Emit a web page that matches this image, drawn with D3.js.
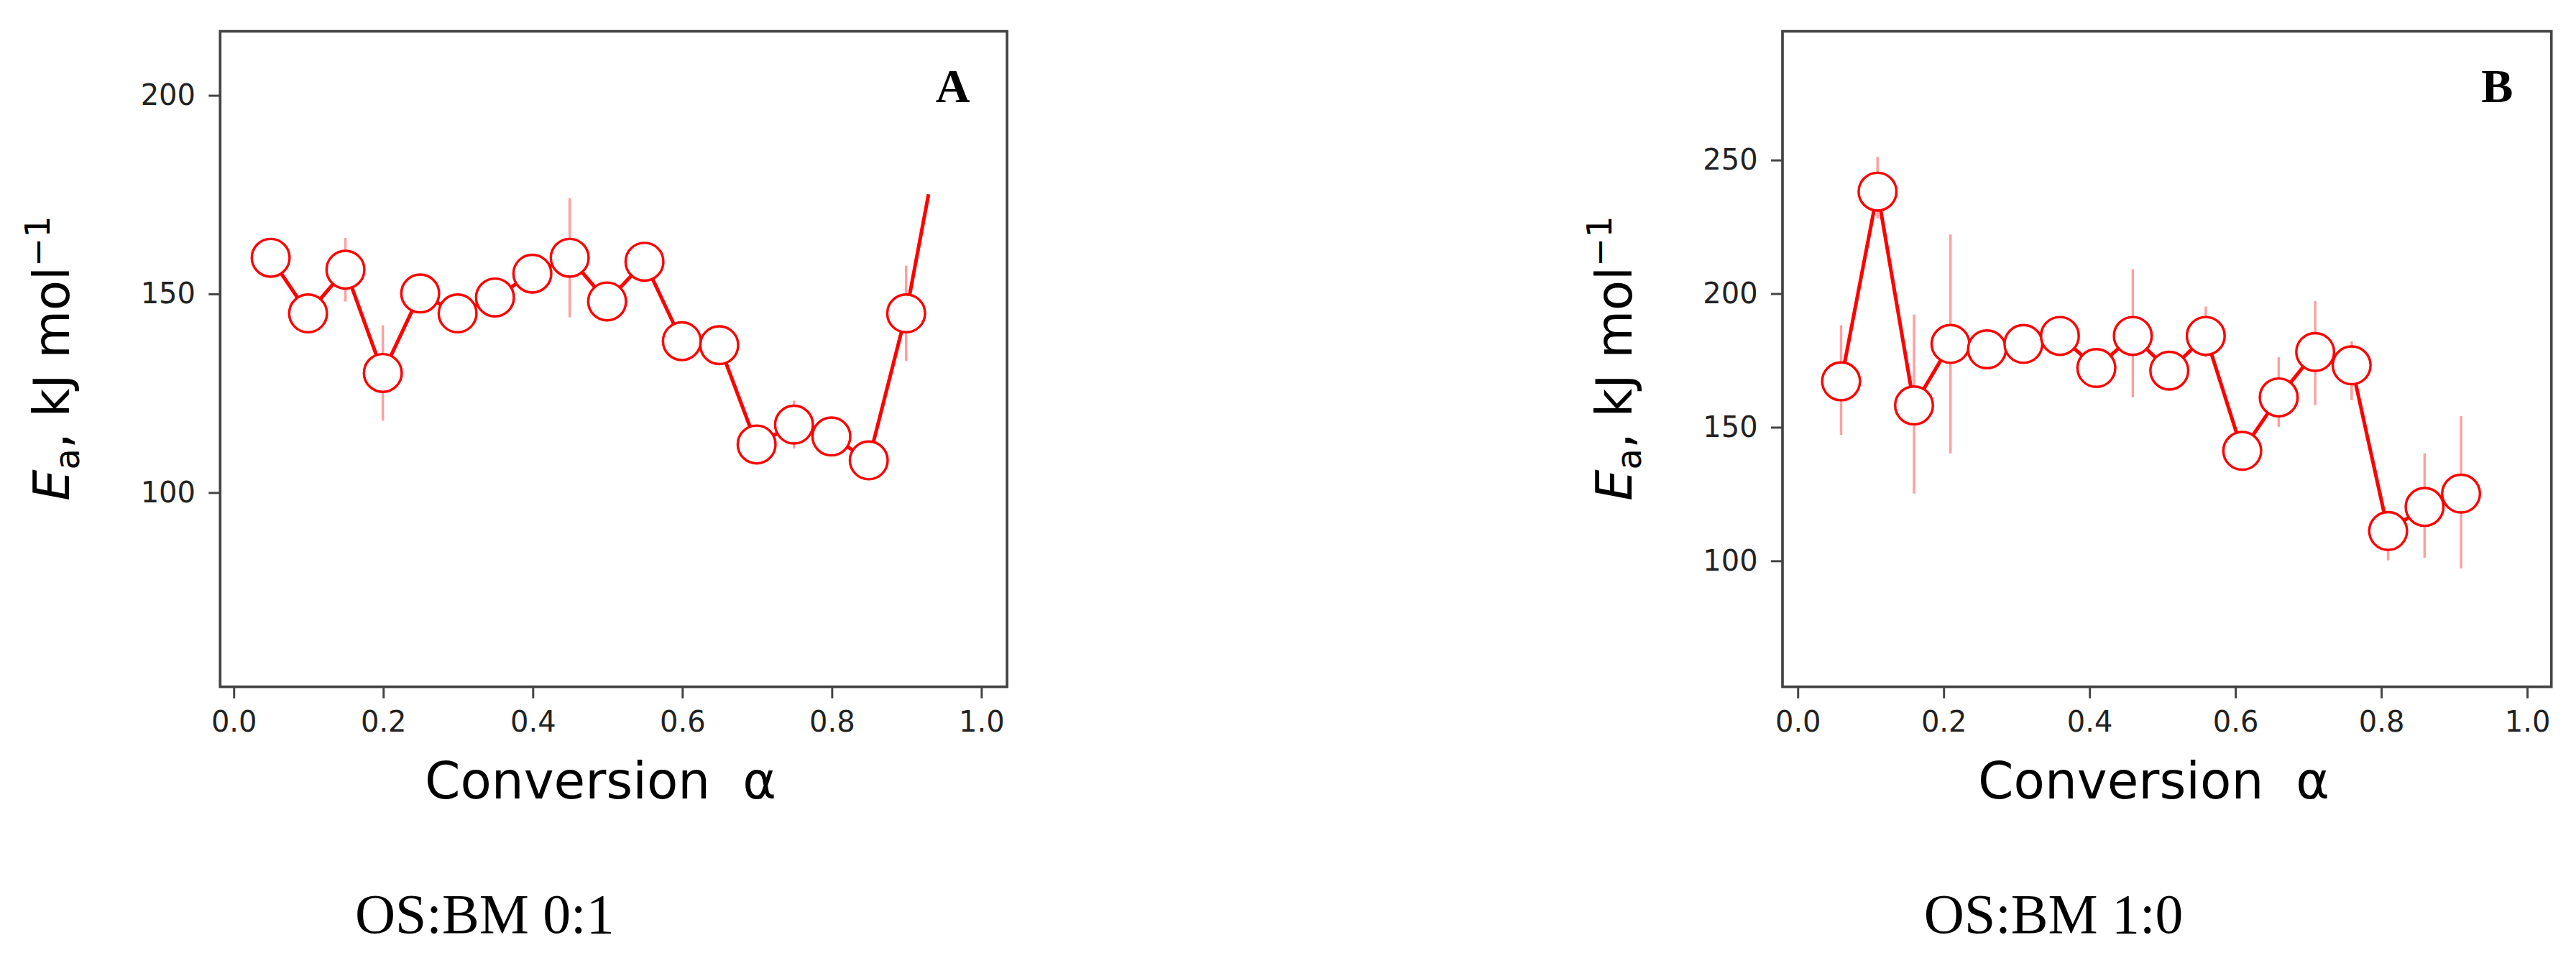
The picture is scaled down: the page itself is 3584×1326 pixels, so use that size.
<!DOCTYPE html><html><head><meta charset="utf-8">
<script src="https://cdn.jsdelivr.net/npm/d3@7"></script>
<style>body{margin:0;background:#fff}</style></head><body>
<svg id="c" width="3584" height="1326" viewBox="0 0 1568 580"></svg>
<script>
const xA=[0.05,0.10,0.15,0.20,0.25,0.30,0.35,0.40,0.45,0.50,0.55,0.60,0.65,0.70,0.75,0.80,0.85,0.90];
const yA=[159,145,156,130,150,145,149,155,159,148,158,138,137,112,117,114,108,145];
const errA=[3,4,8,12,4,3,3,4,15,3,3,3,3,3,6,3,3,12];
const tailA=[0.93,175];
const xB=[0.06,0.11,0.16,0.21,0.26,0.31,0.36,0.41,0.46,0.51,0.56,0.61,0.66,0.71,0.76,0.81,0.86,0.91];
const yB=[167,238,158,181,179,181,184,172,184,171,184,141,161,178,173,111,120,125];
const loB=[147,228,125,140,176,176,180,167,161,165,176,137,150,158,160,100,101,97];
const hiB=[188,251,192,222,182,186,188,177,209,177,195,145,176,197,182,118,140,154];
const xTicks=[0,0.2,0.4,0.6,0.8,1.0];
const yTicksA=[100,150,200];
const yTicksB=[100,150,200,250];
const svg=d3.select("#c");
function panel(o){
  const g=svg.append("g");
  const x=d3.scaleLinear().domain(o.xd).range([o.l,o.r]);
  const y=d3.scaleLinear().domain(o.yd).range([418,19]);
  g.append("rect").attr("x",o.l).attr("y",19).attr("width",o.r-o.l).attr("height",399).attr("fill","none").attr("stroke","#444").attr("stroke-width",1.6);
  const ax=g.append("g").attr("transform","translate(0,418)").call(d3.axisBottom(x).tickValues(xTicks).tickFormat(d3.format(".1f")).tickSize(7).tickPadding(8));
  const ay=g.append("g").attr("transform",`translate(${o.l},0)`).call(d3.axisLeft(y).tickValues(o.yt).tickSize(7).tickPadding(8));
  [ax,ay].forEach(a=>{a.select(".domain").remove();a.selectAll("line").attr("stroke","#444").attr("stroke-width",1.3);a.selectAll("text").attr("font-family","DejaVu Sans").attr("font-size",17.5).attr("fill","#222");});
  const pts=o.xs.map((v,i)=>[v,o.ys[i]]);
  const lp=o.tail?pts.concat([o.tail]):pts;
  g.append("g").selectAll("line").data(o.xs).join("line").attr("x1",d=>x(d)).attr("x2",d=>x(d))
    .attr("y1",(d,i)=>y(o.lo[i])).attr("y2",(d,i)=>y(o.hi[i])).attr("stroke","#f77").attr("stroke-width",1.5).attr("opacity",0.7);
  g.append("path").attr("d",d3.line().x(d=>x(d[0])).y(d=>y(d[1]))(lp)).attr("fill","none").attr("stroke","red").attr("stroke-width",2.2);
  g.append("g").selectAll("circle").data(pts).join("circle").attr("cx",d=>x(d[0])).attr("cy",d=>y(d[1])).attr("r",11.5).attr("fill","#fff").attr("stroke","red").attr("stroke-width",1.5);
  g.append("text").attr("x",o.r-33).attr("y",62).attr("text-anchor","middle").attr("font-family","Liberation Serif").attr("font-weight","bold").attr("font-size",29).text(o.letter);
  const yl=g.append("text").attr("transform",`translate(${o.l-92},218) rotate(-90)`).attr("text-anchor","middle").attr("font-family","DejaVu Sans").attr("font-size",30);
  yl.append("tspan").attr("font-style","italic").text("E");
  yl.append("tspan").attr("font-size",21).attr("dy",6).text("a");
  yl.append("tspan").attr("dy",-6).text(", kJ mol");
  yl.append("tspan").attr("font-size",21).attr("dy",-12).text("−1");
  g.append("text").attr("x",(o.l+o.r)/2-8).attr("y",486).attr("text-anchor","middle").attr("font-family","DejaVu Sans").attr("font-size",31).attr("xml:space","preserve").text("Conversion  α");
  g.append("text").attr("x",o.cap).attr("y",568).attr("text-anchor","middle").attr("font-family","Liberation Serif").attr("font-size",34).text(o.caption);
}
panel({l:134,r:613,xd:[-0.0176,1.035],yd:[51,216],yt:yTicksA,xs:xA,ys:yA,lo:yA.map((v,i)=>v-errA[i]),hi:yA.map((v,i)=>v+errA[i]),tail:tailA,letter:"A",cap:295,caption:"OS:BM 0:1"});
panel({l:1085,r:1553,xd:[-0.0203,1.0338],yd:[52.7,298],yt:yTicksB,xs:xB,ys:yB,lo:loB,hi:hiB,tail:null,letter:"B",cap:1250,caption:"OS:BM 1:0"});
</script></body></html>
